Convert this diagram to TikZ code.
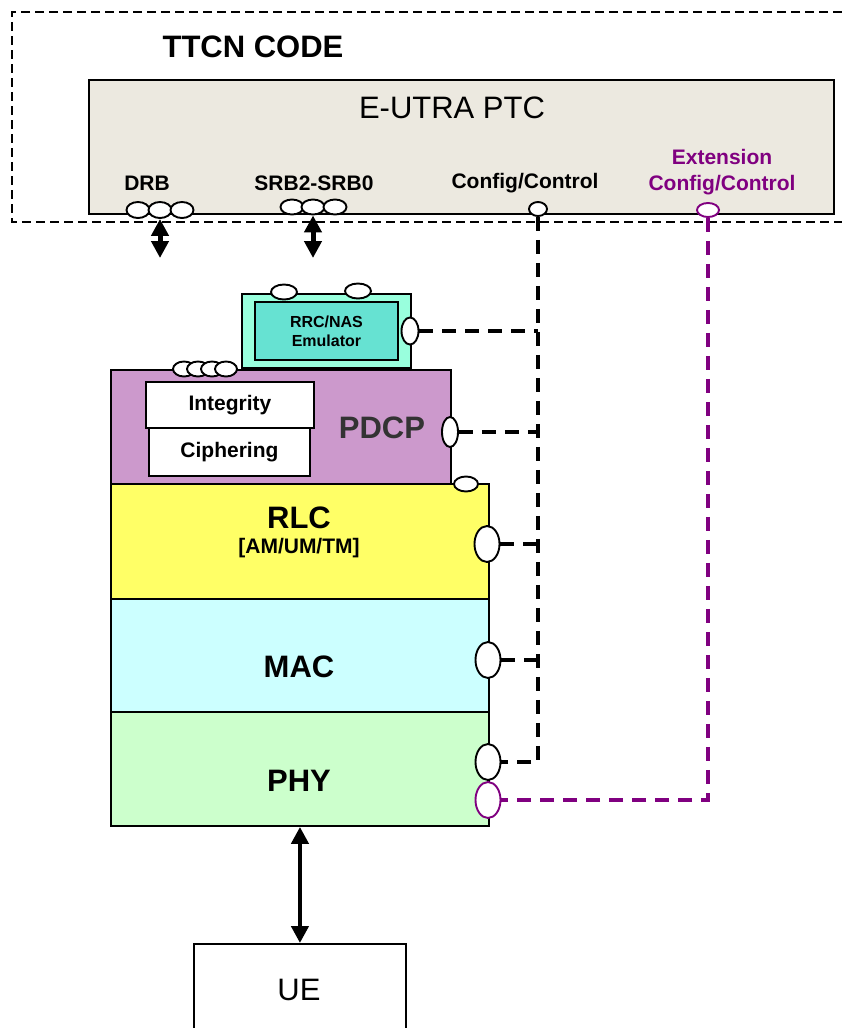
\documentclass[tikz,border=0pt]{standalone}
\usepackage{fontspec}
\setmainfont{Liberation Sans}
\usetikzlibrary{arrows.meta,shapes.geometric}
\definecolor{ptcfill}{RGB}{236,233,224}
\definecolor{rrcout}{RGB}{153,255,221}
\definecolor{rrcin}{RGB}{102,226,210}
\definecolor{pdcpfill}{RGB}{204,153,204}
\definecolor{pdcptext}{RGB}{51,51,51}
\definecolor{rlcfill}{RGB}{255,255,102}
\definecolor{macfill}{RGB}{204,255,255}
\definecolor{phyfill}{RGB}{204,255,204}
\definecolor{extcol}{RGB}{128,0,128}

\begin{document}
\begin{tikzpicture}[x=1pt,y=-1pt]
    \tikzset{box/.style = {draw,line width=1.9pt,anchor=north west,inner sep=0}}
    \tikzset{port/.style = {ellipse,draw,fill=white,line width=1.9pt,inner sep=0}}
    \tikzset{big/.style = {font=\fontsize{31}{34}\selectfont\bfseries}}
    \tikzset{small/.style = {font=\fontsize{21}{26}\selectfont\bfseries,align=center}}
    \tikzset{ctrl/.style = {line width=4.8pt,dash pattern=on 14pt off 9pt}}
    \tikzset{edge/.style = {{Triangle[width=17pt,length=17pt]}-{Triangle[width=17pt,length=17pt]},line width=4.5pt}}
    \useasboundingbox (0,0) rectangle (842,1028);
    \clip (0,0) rectangle (842,1028);
    % ttcn part
    \draw[line width=2.4pt,dash pattern=on 9pt off 5pt] (842,12) -- (12,12) -- (12,222) -- (842,222);
    \node[big] (ttcn) at (253,47) {TTCN CODE};
    \node[box,fill=ptcfill,minimum width=745pt,minimum height=134pt] (ptc) at (88,79) {};
    \node[font=\fontsize{31}{34}\selectfont] (ptcname) at (452,108) {E-UTRA PTC};
    \node[small] (drbl) at (147,183) {DRB};
    \node[small] (srbl) at (314,183) {SRB2-SRB0};
    \node[small] (cfgl) at (525,183) {Config/Control};
    \node[small,text=extcol] (extl) at (722,172) {Extension\\Config/Control};
    % ports of ptc
    \node[port,minimum width=23pt,minimum height=16pt] (drb1) at (138,210) {};
    \node[port,minimum width=23pt,minimum height=16pt] (drb2) at (160,210) {};
    \node[port,minimum width=23pt,minimum height=16pt] (drb3) at (182,210) {};
    \node[port,minimum width=23pt,minimum height=15pt] (srb1) at (292,207) {};
    \node[port,minimum width=23pt,minimum height=15pt] (srb2) at (313,207) {};
    \node[port,minimum width=23pt,minimum height=15pt] (srb3) at (335,207) {};
    \node[port,minimum width=18pt,minimum height=14pt] (cfg) at (538,209) {};
    \node[port,draw=extcol,minimum width=22pt,minimum height=14pt] (extc) at (708,210) {};
    \coordinate (drbend) at (160,258);
    \coordinate (srbend) at (313,258);
    \draw[edge,line width=5pt] (drb2.south) -- (drbend);
    \draw[edge,line width=5pt] (srb2.south) -- (srbend);
    % ss layers
    \node[box,fill=rrcout,minimum width=169pt,minimum height=74pt] (rrc) at (241,293) {};
    \node[box,fill=rrcin,minimum width=143pt,minimum height=58pt,font=\fontsize{16}{19}\selectfont\bfseries,align=center] (rrcemu) at (254,301) {RRC/NAS\\Emulator};
    \node[port,minimum width=26pt,minimum height=15pt] (rrct1) at (284,292) {};
    \node[port,minimum width=26pt,minimum height=15pt] (rrct2) at (358,291) {};
    \node[box,fill=pdcpfill,minimum width=340pt,minimum height=114pt] (pdcp) at (110,369) {};
    \node[box,fill=white,minimum width=168pt,minimum height=46pt,small] (integ) at (145,381) {Integrity};
    \node[box,fill=white,minimum width=161pt,minimum height=48pt,small] (ciph) at (148,427) {Ciphering};
    \node[big,text=pdcptext] (pdcpl) at (382,428) {PDCP};
    \node[box,fill=rlcfill,minimum width=378pt,minimum height=115pt] (rlc) at (110,483) {};
    \node[big] (rlcl) at (299,518) {RLC};
    \node[small] (rlcm) at (299,548) {[AM/UM/TM]};
    \node[box,fill=macfill,minimum width=378pt,minimum height=113pt] (mac) at (110,598) {};
    \node[big] (macl) at (299,667) {MAC};
    \node[box,fill=phyfill,minimum width=378pt,minimum height=114pt] (phy) at (110,711) {};
    \node[big] (phyl) at (299,781) {PHY};
    % ports of layers
    \foreach \x [count=\i] in {184,198,212,226}
        \node[port,minimum width=22pt,minimum height=15pt] (pdcpt\i) at (\x,369) {};
    \node[port,minimum width=24pt,minimum height=15pt] (rlct) at (466,484) {};
    \node[port,minimum width=17pt,minimum height=27pt] (rrcp) at (410,331) {};
    \node[port,minimum width=16pt,minimum height=30pt] (pdcpp) at (450,432) {};
    \node[port,minimum width=25pt,minimum height=36pt] (rlcp) at (487,544) {};
    \node[port,minimum width=25pt,minimum height=36pt] (macp) at (488,660) {};
    \node[port,minimum width=25pt,minimum height=36pt] (phyp) at (488,762) {};
    \node[port,draw=extcol,minimum width=25pt,minimum height=36pt] (extp) at (488,800) {};
    % control lines
    \draw[ctrl] (cfg.south) |- (phyp.east);
    \draw[ctrl] (rrcp.east) -- (rrcp.east -| cfg.south);
    \draw[ctrl] (pdcpp.east) -- (pdcpp.east -| cfg.south);
    \draw[ctrl] (rlcp.east) -- (rlcp.east -| cfg.south);
    \draw[ctrl] (macp.east) -- (macp.east -| cfg.south);
    \draw[ctrl,draw=extcol,line width=4.2pt] (extc.south) |- (extp.east);
    % ue
    \node[box,minimum width=212pt,minimum height=120pt] (ue) at (193,943) {};
    \node[font=\fontsize{31}{34}\selectfont] (uel) at (299,990) {UE};
    \draw[edge] (phy.south) -- (ue.north);
\end{tikzpicture}
\end{document}
